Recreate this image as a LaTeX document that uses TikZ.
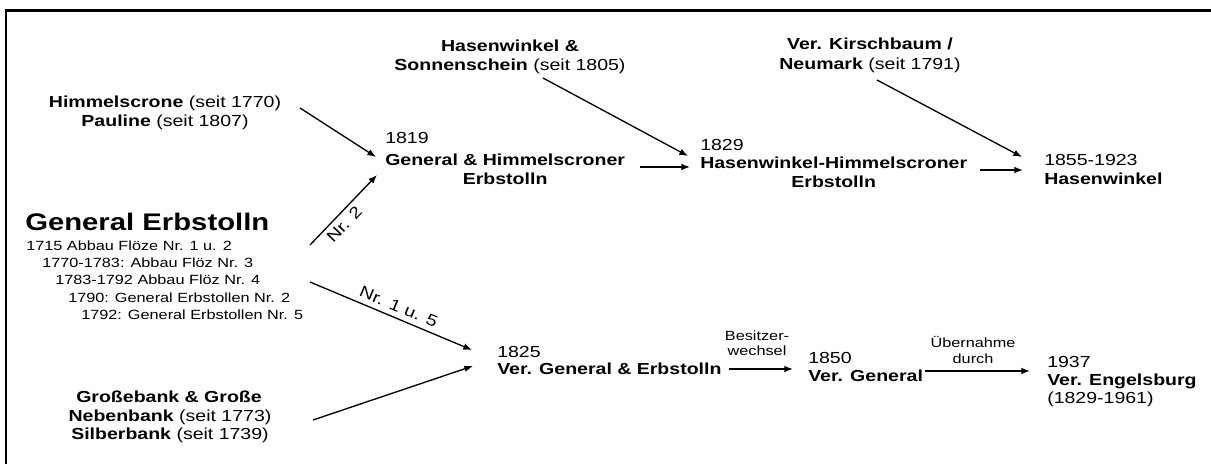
\documentclass[tikz,border=0pt]{standalone}
\usepackage{fontspec}
\setmainfont[FakeStretch=1.22]{Liberation Sans}
\usetikzlibrary{arrows.meta,calc}
\newcommand{\fmain}{\fontsize{12}{14.25}\selectfont}
\newcommand{\fsmall}{\fontsize{10}{13}\selectfont}
\newcommand{\flarge}{\fontsize{18}{20}\selectfont}
\begin{document}
\begin{tikzpicture}[x=0.75pt,y=-0.75pt,
  txt/.style={inner sep=0pt,anchor=base,font=\fmain},
  txtl/.style={inner sep=0pt,anchor=base west,font=\fmain},
  sml/.style={inner sep=0pt,anchor=base west,font=\fsmall},
  smc/.style={inner sep=0pt,anchor=base,font=\fsmall},
  arr/.style={line width=1pt,-{Latex[length=6.5pt,width=5pt]}},
  lbl/.style={font=\fmain,sloped}]
\useasboundingbox (0,0) rectangle (1211,464);
\draw[line width=1.6pt] (5,10.5) -- (1211,10.5);
\draw[line width=1.6pt] (6,9.7) -- (6,464);

% upper left group
\node[txt] (him1) at (165,107) {\textbf{Himmelscrone} (seit 1770)};
\node[txt] (him2) at (165,126) {\textbf{Pauline} (seit 1807)};
% top groups
\node[txt] (has1) at (510,51) {\textbf{Hasenwinkel \&}};
\node[txt] (has2) at (510,70) {\textbf{Sonnenschein} (seit 1805)};
\node[txt] (kir1) at (870,50) {\textbf{Ver. Kirschbaum /}};
\node[txt] (kir2) at (870,69) {\textbf{Neumark} (seit 1791)};
% 1819
\node[txtl] (y1819) at (385,143) {1819};
\node[txtl] (g1819) at (385,165) {\textbf{General \& Himmelscroner}};
\node[txt] (e1819) at ($(g1819.base)+(0,19)$) {\textbf{Erbstolln}};
% 1829
\node[txtl] (y1829) at (700,150) {1829};
\node[txtl] (g1829) at (700,168) {\textbf{Hasenwinkel-Himmelscroner}};
\node[txt] (e1829) at ($(g1829.base)+(0,19)$) {\textbf{Erbstolln}};
% 1855
\node[txtl] (y1855) at (1044,165) {1855-1923};
\node[txtl] (g1855) at (1044,184) {\textbf{Hasenwinkel}};
% General Erbstolln
\node[inner sep=0pt,anchor=base west,font=\flarge] (gen) at (25,230) {\textbf{General Erbstolln}};
\node[sml] (gl1) at (26,250) {1715 Abbau Flöze Nr. 1 u. 2};
\node[sml] (gl2) at (42,267) {1770-1783: Abbau Flöz Nr. 3};
\node[sml] (gl3) at (55,284) {1783-1792 Abbau Flöz Nr. 4};
\node[sml] (gl4) at (68,302) {1790: General Erbstollen Nr. 2};
\node[sml] (gl5) at (81,319) {1792: General Erbstollen Nr. 5};
% lower left group
\node[txt] (gb1) at (169,402) {\textbf{Großebank \& Große}};
\node[txt] (gb2) at (170,421) {\textbf{Nebenbank} (seit 1773)};
\node[txt] (gb3) at (170,439) {\textbf{Silberbank} (seit 1739)};
% 1825
\node[txtl] (y1825) at (497,357) {1825};
\node[txtl] (g1825) at (497,374) {\textbf{Ver. General \& Erbstolln}};
% 1850
\node[txtl] (y1850) at (808,363) {1850};
\node[txtl] (g1850) at (808,381) {\textbf{Ver. General}};
% 1937
\node[txtl] (y1937) at (1047,367) {1937};
\node[txtl] (g1937) at (1047,385) {\textbf{Ver. Engelsburg}};
\node[txtl] (p1937) at (1047,403) {(1829-1961)};
% arrow labels
\node[smc] (bw1) at (757,340) {Besitzer-};
\node[smc] (bw2) at (757,355) {wechsel};
\node[smc] (ub1) at (973,347) {Übernahme};
\node[smc] (ub2) at (973,363) {durch};

% connectors
\draw[arr] ([shift={(135,1)}]him1.base) -- ([shift={(-9,-8)}]g1819.base west);
\draw[arr] ([shift={(285,15)}]gen.base west) -- node[lbl,below,pos=0.4,inner sep=3pt] {Nr. 2} ([shift={(-8,10)}]g1819.base west);
\draw[arr] ([shift={(33,8)}]has2.base) -- ([shift={(-12,-12)}]g1829.base west);
\draw[arr] ([shift={(255,2)}]g1819.base west) -- ([shift={(-10,-1)}]g1829.base west);
\draw[arr] ([shift={(7,11)}]kir2.base) -- ([shift={(-22,-27)}]g1855.base west);
\draw[arr] ([shift={(280,2)}]g1829.base west) -- ([shift={(-21,-14)}]g1855.base west);
\draw[arr] ([shift={(285,52)}]gen.base west) -- node[lbl,above,pos=0.52,inner sep=4pt] {Nr. 1 u. 5} ([shift={(-25,-24)}]g1825.base west);
\draw[arr] ([shift={(143,-1)}]gb2.base) -- ([shift={(-24,-8)}]g1825.base west);
\draw[arr] ([shift={(232,-5)}]g1825.base west) -- ([shift={(-15,-12)}]g1850.base west);
\draw[arr] ([shift={(117,-10)}]g1850.base west) -- ([shift={(-17,-14)}]g1937.base west);
\end{tikzpicture}
\end{document}
